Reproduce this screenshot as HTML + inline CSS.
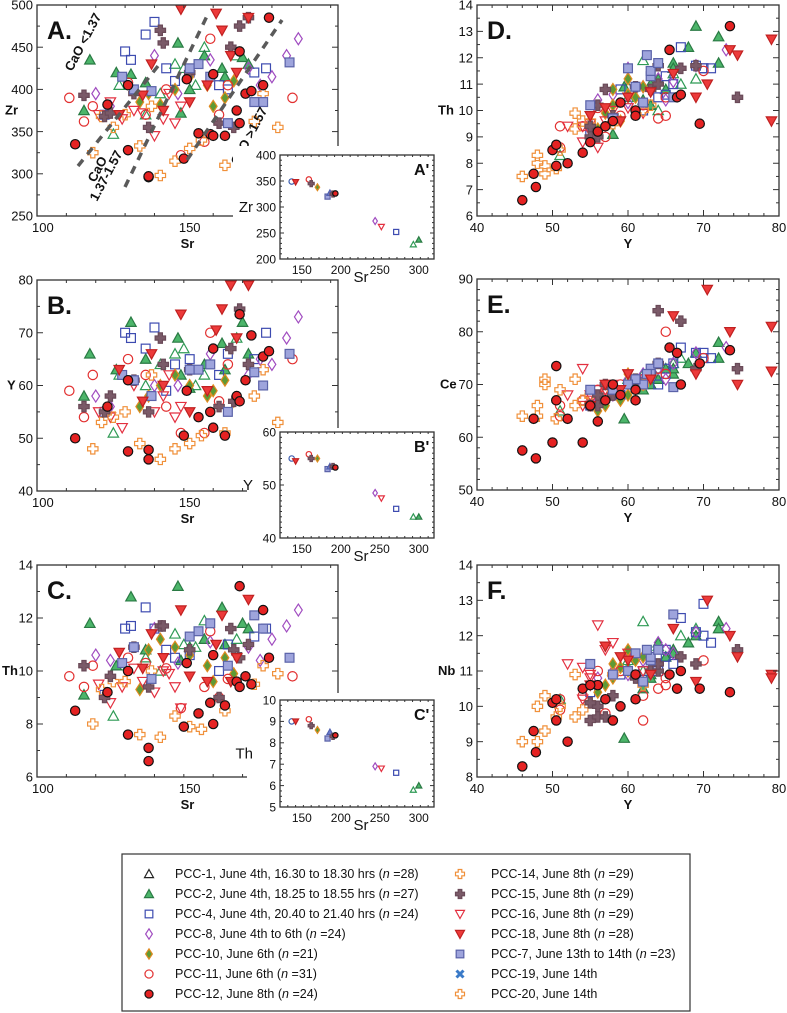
<!DOCTYPE html>
<html><head><meta charset="utf-8"><style>
html,body{margin:0;padding:0;background:#fff;width:787px;height:1013px;overflow:hidden}
svg{display:block;font-family:"Liberation Sans",Arial,sans-serif}
</style></head><body>
<svg id="fig" width="787" height="1013" viewBox="0 0 787 1013" xmlns="http://www.w3.org/2000/svg"></svg>
<script>
// Sample columns: [Sr, Zr, Y, Th, Ce, Nb]
const pcc1 = [[124,347,51,8.3,65,10.2],[126,405,62,10.2,70,11.0],[135,370,60,10.5,71,11.3],[145,430,66,11.4,74,11.6],[148,425,67,11.0,75,12.0],[155,450,62,11.9,72,12.4],[166,440,69,11.2,76,12.2],[152,405,60,10.9,70,11.1],[140,395,64,10.0,73,11.7]];
const pcc2 = [[116,435,66,11.8,72,11.6],[114,375,58,9.1,68,11.0],[130,418,72,12.8,78,12.4],[146,455,69,13.2,76,12.0],[161,425,68,12.4,74,11.8],[168,438,72,11.8,75,12.2],[170,430,66,11.6,73,11.5],[155,440,64,11.2,71,11.8],[162,415,63,11.0,70,10.9],[147,372,62,10.4,69,10.5],[135,408,65,10.8,73,11.4],[125,420,63,10.2,70,10.8],[150,400,59.5,10.9,63.5,9.1]];
const pcc4 = [[121,370,55,9.1,66,10.4],[128,445,70,11.6,76,12.0],[135,465,67,12.4,77,12.5],[138,480,71,11.6,75,11.8],[145,410,64,10.5,70,11.0],[150,420,65,10.6,72,11.4],[160,405,62,10.0,71,11.0],[163,400,66,11.0,74,11.2],[172,420,65,11.3,73,11.6],[130,435,69,11.7,76,12.1],[142,425,59,10.8,68,10.9],[176,425,70,11.6,75,12.9]];
const pcc8 = [[118,395,58,10.6,68,11.0],[123,380,56,10.4,67,10.8],[183,440,69,11.7,76,12.1],[187,460,73,12.3,77,12.2],[178,415,64,11.2,73,11.8],[170,425,62,10.9,72,11.3],[157,435,66,11.1,74,11.5],[138,440,60,11.6,71,11.4],[146,395,60,10.3,70,10.9],[174,405,65,10.4,71,11.6]];
const pcc10 = [[136,395,58,10.8,69,11.2],[140,382,60,11.2,68,11.0],[145,400,62,10.9,70,11.4],[150,415,60,10.6,72,11.6],[156,405,58,10.2,69,10.8],[162,390,61,10.5,70,11.3],[165,410,57,9.9,66,10.6],[133,385,56,9.3,65,10.4],[158,380,59,9.6,67,11.1]];
const pcc11 = [[109,390,59,9.8,70,11.0],[114,362,54,9.4,67,10.3],[117,380,62,10.2,71,9.6],[129,408,65,10.5,72,10.6],[147,322,51,8.6,64,9.9],[155,338,51,9.4,66,10.2],[157,460,70,11.5,75,11.3],[163,405,64,9.7,73,10.5],[185,390,65,9.8,80,10.8],[142,400,56,10.1,69,11.0],[135,370,62,10.3,71,10.3],[160,370,57,9.0,69,9.8]];
const pcc12 = [[111,335,50,8.5,59,10.1],[122,382,56,9.2,63,10.6],[129,328,47.5,7.6,63.5,9.3],[129,405,61,10.0,67,10.2],[136,296,46,6.6,57.5,8.3],[136,297,47.8,7.1,56,8.7],[148,318,50.5,7.9,67,9.6],[149,412,59,10.3,68,10.0],[153,348,54,8.4,59,10.5],[157,347,55,8.8,66,10.6],[158,345,52,8.0,63.5,9.0],[162,345,50.5,8.7,73.5,10.2],[166,375,58,9.6,70,9.6],[167,445,73.5,13.2,76.5,10.4],[169,395,61,9.8,69,10.9],[171,398,69.5,9.5,74,10.5],[175,405,65.5,12.3,77,10.9],[177,485,66.5,10.5,76,10.5],[158,418,67,10.6,70,11.0],[167,360,57,9.4,67,10.2]];
const pcc14 = [[117,325,48,8.0,66,9.0],[120,368,53,9.3,66,9.7],[124,355,54,9.6,67,9.9],[133,333,49,7.6,71,9.3],[140,298,46,7.5,64,9.0],[145,315,48,8.3,64,10.0],[150,330,49,7.9,70,10.3],[154,340,50.5,7.8,63.5,9.7],[162,310,51,8.5,69,10.0],[172,362,58,9.5,69,10.9],[180,355,53,9.9,71,10.9],[137,380,62,10.0,70,10.6],[128,370,55,9.6,68,10.1],[175,395,63,10.2,72,11.0]];
const pcc15 = [[114,393,56,10.2,68,10.0],[121,368,55,9.0,66,9.6],[123,372,58,9.8,68,10.3],[131,395,61,10.9,71,10.8],[140,470,69,11.7,73,11.2],[141,455,64,11.7,74,11.0],[150,420,63,10.8,72,11.0],[160,360,56,9.0,66,9.7],[164,450,67,11.6,82,11.4],[167,475,74.5,10.5,73,11.6],[170,485,64,11.0,84,11.2],[136,355,55,9.4,66,10.1],[165,355,57,10.8,70,9.7]];
const pcc16 = [[119,370,55,9.5,67,10.8],[123,385,54,8.8,66,10.2],[127,365,52,9.4,68,11.2],[134,372,57,9.6,69,11.6],[138,345,55,9.2,68,10.9],[141,365,58,10.0,70,11.8],[145,360,54,9.4,73,11.1],[147,380,56,8.6,69,12.3],[131,375,60,10.1,72,11.5],[143,395,62,9.9,71,11.0]];
const pcc18 = [[126,370,63,10.7,71,10.9],[134,393,57,10.1,70,11.7],[141,375,60,10.5,72,11.3],[147,495,73.5,12.3,80,12.0],[156,405,59,9.6,69,11.4],[159,490,70.5,11.0,88,13.0],[161,470,74.5,12.1,70,11.4],[170,485,79,12.7,81,10.9],[164,440,79,9.6,72.5,10.8],[150,385,55,9.8,66,10.6],[137,430,66,11.4,83,12.2],[166,420,69,10.5,72,10.7]];
const pcc7 = [[127,415,62,10.3,70,10.7],[131,400,61,10.9,71,11.5],[137,398,58,9.7,69,10.9],[150,425,63,11.3,73,11.3],[153,430,63,11.5,72,11.4],[157,415,64,11.8,74,11.6],[163,360,55,10.2,69,11.2],[175,385,60,11.6,70,11.0],[184,432,66,10.5,69.5,12.6],[172,385,62.5,12.1,72,11.6]];
// inset means
const insetSr = [137,142,159,162,170,183,186,190,193,244,252,271,293,300];
const insetZr = [349,348,353,345,338,320,327,325,326,273,262,252,228,237];
const insetY  = [55,54.5,55.8,55,55,53,53.5,53.5,53.3,48.5,47.5,45.5,44,44];
const insetTh = [9,9,9.1,8.8,8.6,8.2,8.5,8.3,8.35,6.9,6.8,6.6,5.8,6.0];
const insetSym = ['ocircB','dtriF','ocircR','bcross','odia','lsq','otriB','bcross','fcirc','pdia','odtri','osq','otri','ftri'];

const NS='http://www.w3.org/2000/svg';
const svg=document.getElementById('fig');
function el(tag,attrs,parent){const e=document.createElementNS(NS,tag);for(const k in attrs)e.setAttribute(k,attrs[k]);(parent||svg).appendChild(e);return e;}
function txt(s,x,y,attrs,parent){const t=el('text',Object.assign({x:x,y:y,'font-size':13,fill:'#111'},attrs||{}),parent);t.textContent=s;return t;}

const STY={
 otri:{shape:'tri',fill:'none',stroke:'#2f9a55'},
 otriK:{shape:'tri',fill:'none',stroke:'#222'},
 otriB:{shape:'tri',fill:'#7080d0',stroke:'#5060b0'},
 ftri:{shape:'tri',fill:'#4cb56a',stroke:'#2a7a44'},
 osq:{shape:'sq',fill:'none',stroke:'#3d4bb0'},
 pdia:{shape:'dia',fill:'none',stroke:'#a04cc0'},
 odia:{shape:'dia',fill:'#5e9a35',stroke:'#e08a20'},
 ocircR:{shape:'circ',fill:'none',stroke:'#e23030'},
 ocircB:{shape:'circ',fill:'none',stroke:'#4060b0'},
 fcirc:{shape:'circ',fill:'#e52222',stroke:'#111'},
 ocross:{shape:'cross',fill:'none',stroke:'#f0903a'},
 bcross:{shape:'cross',fill:'#7a5a68',stroke:'#6a4a58'},
 odtri:{shape:'dtri',fill:'none',stroke:'#e33040'},
 dtriF:{shape:'dtri',fill:'#ec3a3a',stroke:'#c02020'},
 lsq:{shape:'sq',fill:'#9ea4dc',stroke:'#5a62a8'},
 xmark:{shape:'x',fill:'#3a7ac8',stroke:'#3a7ac8'}
};
function marker(g,key,x,y,s){
 const st=STY[key];const a={fill:st.fill,stroke:st.stroke,'stroke-width':1.2};let e;
 if(st.shape==='circ'){e=el('circle',Object.assign({cx:x,cy:y,r:s*0.9},a),g);}
 else if(st.shape==='sq'){e=el('rect',Object.assign({x:x-s*0.85,y:y-s*0.85,width:s*1.7,height:s*1.7},a),g);}
 else if(st.shape==='tri'){e=el('polygon',Object.assign({points:`${x},${y-s} ${x+s},${y+s*0.8} ${x-s},${y+s*0.8}`},a),g);}
 else if(st.shape==='dtri'){e=el('polygon',Object.assign({points:`${x},${y+s} ${x+s},${y-s*0.8} ${x-s},${y-s*0.8}`},a),g);}
 else if(st.shape==='dia'){e=el('polygon',Object.assign({points:`${x},${y-s*1.15} ${x+s*0.75},${y} ${x},${y+s*1.15} ${x-s*0.75},${y}`},a),g);}
 else if(st.shape==='cross'){const w=s*0.4,L=s;e=el('polygon',Object.assign({points:`${x-w},${y-L} ${x+w},${y-L} ${x+w},${y-w} ${x+L},${y-w} ${x+L},${y+w} ${x+w},${y+w} ${x+w},${y+L} ${x-w},${y+L} ${x-w},${y+w} ${x-L},${y+w} ${x-L},${y-w} ${x-w},${y-w}`},a),g);}
 else {e=el('path',{d:`M${x-s},${y-s}L${x+s},${y+s}M${x+s},${y-s}L${x-s},${y+s}`,stroke:st.stroke,'stroke-width':3},g);}
 return e;
}
const SERIES=[[pcc1,'otri'],[pcc2,'ftri'],[pcc4,'osq'],[pcc8,'pdia'],[pcc10,'odia'],[pcc11,'ocircR'],[pcc16,'odtri'],[pcc14,'ocross'],[pcc15,'bcross'],[pcc7,'lsq'],[pcc18,'dtriF'],[pcc12,'fcirc']];

function axes(o){
 const g=el('g',{});
 
 
 const sx=v=>o.x0+(v-o.xmin)/(o.xmax-o.xmin)*(o.x1-o.x0);
 const sy=v=>o.y1-(v-o.ymin)/(o.ymax-o.ymin)*(o.y1-o.y0);
 return {g,sx,sy,o};
}
function drawFrame(A){
 const o=A.o,g=A.g;
 el('rect',{x:o.x0,y:o.y0,width:o.x1-o.x0,height:o.y1-o.y0,fill:'none',stroke:'#333','stroke-width':1.3},g);
 const tl=o.tl||6, ts=o.ts||3;
 for(let v=o.xmin;v<=o.xmax+1e-9;v+=o.xminor){
  const maj=Math.abs((v/o.xmajor)-Math.round(v/o.xmajor))<1e-6;const L=maj?tl:ts;const x=A.sx(v);
  el('line',{x1:x,y1:o.y1,x2:x,y2:o.y1-L,stroke:'#333','stroke-width':1},g);
  el('line',{x1:x,y1:o.y0,x2:x,y2:o.y0+L,stroke:'#333','stroke-width':1},g);
 }
 for(let v=o.ymin;v<=o.ymax+1e-9;v+=o.yminor){
  const maj=Math.abs((v/o.ymajor)-Math.round(v/o.ymajor))<1e-6;const L=maj?tl:ts;const y=A.sy(v);
  el('line',{x1:o.x0,y1:y,x2:o.x0+L,y2:y,stroke:'#333','stroke-width':1},g);
  el('line',{x1:o.x1,y1:y,x2:o.x1-L,y2:y,stroke:'#333','stroke-width':1},g);
 }
 const fs=o.fs||13;
 o.xlabels.forEach(v=>{const t=txt(String(v),A.sx(v),o.y1+fs+3,{'text-anchor':'middle','font-size':fs},g);});
 o.ylabels.forEach(v=>{const t=txt(String(v),o.x0-4,A.sy(v)+fs*0.36,{'text-anchor':'end','font-size':fs},g);});
}
function mainPanel(o,xi,yi,letter,xt,yt,ytx){
 const A=axes(o);
 SERIES.forEach(([arr,key])=>{
  const sg=el('g',{},A.g);
  
  
  arr.forEach(d=>{const m=marker(sg,key,A.sx(d[xi]),A.sy(d[yi]),5.2);
   
   });
 });
 drawFrame(A);
 const L=txt(letter,o.x0+10,o.y0+34,{'font-size':25,'font-weight':'bold'},A.g);
 
 const xt_=txt(xt,(o.x0+o.x1)/2+(o.xtOff||0),o.y1+32,{'font-size':13,'font-weight':'bold','text-anchor':'middle'},A.g);
 
 const yt_=txt(yt,ytx,(o.y0+o.y1)/2+4,{'font-size':13,'font-weight':'bold'},A.g);
 
 return A;
}
function inset(o,vals,letter,yt){
 const cover=el('rect',{x:o.cx,y:o.cy,width:o.cw,height:o.ch,fill:'#fff'});
 
 const A=axes(o);
 insetSr.forEach((s,i)=>{const m=marker(A.g,insetSym[i],A.sx(s),A.sy(vals[i]),3);
  
  });
 drawFrame(A);
 const L=txt(letter,o.x1-20,o.y0+20,{'font-size':16,'font-weight':'bold'},A.g);
 
 const xt=txt('Sr',o.x0+81,o.y1+23,{'font-size':15,'text-anchor':'middle'},A.g);
 
 const y=txt(yt,o.x0-27,(o.y0+o.y1)/2+5,{'font-size':15,'text-anchor':'end'},A.g);
 
}
const L={x0:37,x1:338,xmin:98,xmax:200.5,xminor:10,xmajor:50,xlabels:[100,150]};
const R={x0:477,x1:779,xmin:40,xmax:80,xminor:2,xmajor:10,xlabels:[40,50,60,70,80]};
mainPanel(Object.assign({},L,{name:'panel-a',y0:5,y1:216,ymin:250,ymax:500,yminor:25,ymajor:50,ylabels:[250,300,350,400,450,500]}),0,1,'A.','Sr','Zr',5);
mainPanel(Object.assign({},L,{name:'panel-b',y0:280,y1:491,ymin:40,ymax:80,yminor:5,ymajor:10,ylabels:[40,50,60,70,80]}),0,2,'B.','Sr','Y',7);
mainPanel(Object.assign({},L,{name:'panel-c',y0:565,y1:777,ymin:6,ymax:14,yminor:1,ymajor:2,ylabels:[6,8,10,12,14]}),0,3,'C.','Sr','Th',2);
mainPanel(Object.assign({},R,{name:'panel-d',y0:5,y1:216,ymin:6,ymax:14,yminor:0.5,ymajor:1,ylabels:[6,7,8,9,10,11,12,13,14]}),2,3,'D.','Y','Th',438);
mainPanel(Object.assign({},R,{name:'panel-e',y0:279,y1:490,ymin:50,ymax:90,yminor:2,ymajor:10,ylabels:[50,60,70,80,90]}),2,4,'E.','Y','Ce',440);
mainPanel(Object.assign({},R,{name:'panel-f',y0:565,y1:777,ymin:8,ymax:14,yminor:0.5,ymajor:1,ylabels:[8,9,10,11,12,13,14]}),2,5,'F.','Y','Nb',438);

// CaO dashed guides on panel A
const guides=el('g',{stroke:'#5a5a5a','stroke-width':3.5,'stroke-dasharray':'8,7',fill:'none'});

el('line',{x1:78,y1:166,x2:158,y2:66},guides);
el('line',{x1:125,y1:187,x2:207,y2:16},guides);
el('line',{x1:187,y1:160,x2:282,y2:20},guides);
function rt(s,x,y,ang,name){const t=txt(s,x,y,{'font-size':13,'font-weight':'bold',transform:`rotate(${ang} ${x} ${y})`});}
rt('CaO <1.37',72,72,-62,'cao-low-label');
rt('CaO',95,183,-62,'cao-mid-label');
rt('1.37-1.57',97,202,-62,'cao-mid-range-label');
rt('CaO >1.57',238,166,-62,'cao-high-label');

const IN={x0:280,x1:434,xmin:122,xmax:319.5,xminor:10,xmajor:50,xlabels:[150,200,250,300],fs:12,tl:4,ts:2};
inset(Object.assign({},IN,{name:'inset-a',cx:233,cy:146,cw:205,ch:126,y0:155,y1:259,ymin:200,ymax:400,yminor:10,ymajor:50,ylabels:[200,250,300,350,400]}),insetZr,"A'",'Zr');
inset(Object.assign({},IN,{name:'inset-b',cx:247,cy:428,cw:191,ch:128,y0:432,y1:538,ymin:40,ymax:60,yminor:1,ymajor:10,ylabels:[40,50,60]}),insetY,"B'",'Y');
inset(Object.assign({},IN,{name:'inset-c',cx:247,cy:693,cw:191,ch:130,y0:700,y1:807,ymin:5,ymax:10,yminor:0.25,ymajor:1,ylabels:[5,6,7,8,9,10]}),insetTh,"C'",'Th');

// legend
const lg=el('g',{});

el('rect',{x:122,y:854,width:568,height:157,fill:'#fff',stroke:'#333','stroke-width':1.2},lg);
const legCol1=[['otriK','PCC-1, June 4th, 16.30 to 18.30 hrs (','=28)'],['ftri','PCC-2, June 4th, 18.25 to 18.55 hrs  (','=27)'],['osq','PCC-4, June 4th, 20.40 to 21.40 hrs  (','=24)'],['pdia','PCC-8, June 4th to 6th  (','=24)'],['odia','PCC-10, June 6th  (','=21)'],['ocircR','PCC-11, June 6th  (','=31)'],['fcirc','PCC-12, June 8th  (','=24)']];
const legCol2=[['ocross','PCC-14, June 8th  (','=29)'],['bcross','PCC-15, June 8th  (','=29)'],['odtri','PCC-16, June 8th  (','=29)'],['dtriF','PCC-18, June 8th  (','=28)'],['lsq','PCC-7, June 13th to 14th  (','=23)'],['xmark','PCC-19, June 14th',null],['ocross','PCC-20, June 14th',null]];
function legRow(item,sx,tx,y){
 const row=el('g',{},lg);
 
 
 marker(row,item[0],sx,y-4,item[0]==='xmark'?3.5:4.5);
 const t=el('text',{x:tx,y:y,'font-size':12.5,fill:'#111'},row);
 t.appendChild(document.createTextNode(item[1]));
 if(item[2]){const ts=el('tspan',{'font-style':'italic'},t);ts.textContent='n ';t.appendChild(document.createTextNode(item[2]));}
}
legCol1.forEach((it,i)=>legRow(it,149,175,878+i*20));
legCol2.forEach((it,i)=>legRow(it,460,491,878+i*20));
</script>
</body></html>
